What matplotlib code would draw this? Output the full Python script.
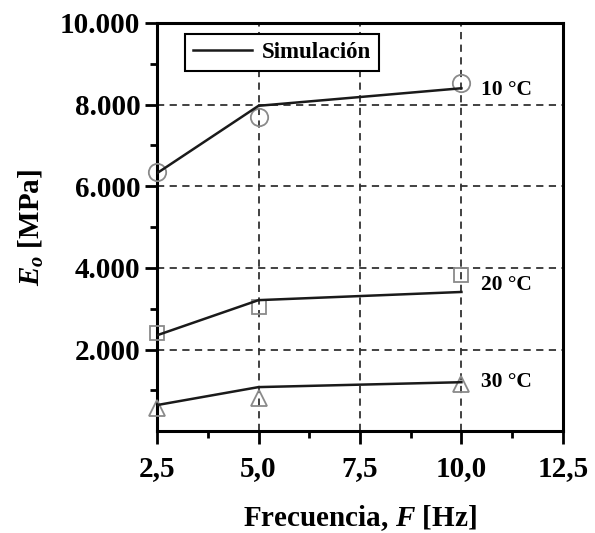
import matplotlib
matplotlib.use("Agg")
import matplotlib.pyplot as plt
from matplotlib.ticker import FixedLocator, FuncFormatter

plt.rcParams['font.family'] = ['Liberation Serif', 'DejaVu Serif']
plt.rcParams['font.weight'] = 'bold'
plt.rcParams['mathtext.fontset'] = 'custom'
plt.rcParams['mathtext.rm'] = 'Liberation Serif:bold'
plt.rcParams['mathtext.it'] = 'Liberation Serif:italic:bold'
plt.rcParams['mathtext.bf'] = 'Liberation Serif:bold'

# Data
freq = [2.5, 5.0, 10.0]
temps = ['10 °C', '20 °C', '30 °C']
sim_10 = [6320, 7970, 8400]
sim_20 = [2350, 3210, 3410]
sim_30 = [640, 1080, 1200]
exp_10 = [6350, 7700, 8530]
exp_20 = [2400, 3040, 3820]
exp_30 = [560, 810, 1150]
xticks = [2.5, 5.0, 7.5, 10.0, 12.5]
yticks = [2000, 4000, 6000, 8000, 10000]

fig = plt.figure(figsize=(5.95, 5.33), dpi=100)
ax = fig.add_axes([0.264, 0.191, 0.682, 0.766])

sims = [sim_10, sim_20, sim_30]
exps = [exp_10, exp_20, exp_30]
markers = ['o', 's', '^']
msizes = [12.5, 10.5, 12]
for i, (s, e) in enumerate(zip(sims, exps)):
    ax.plot(freq, e, linestyle='none', marker=markers[i], markersize=msizes[i],
            markerfacecolor='none', markeredgecolor='#8a8a8a', markeredgewidth=1.3,
            zorder=3, clip_on=False)
    ax.plot(freq, s, color='#1a1a1a', linewidth=1.8, zorder=4,
            label='Simulación' if i == 0 else None)

# temperature annotations
label_y = [sim_10[-1], exp_20[-1], sim_30[-1]]
label_dy = [-50, -250, 0]
for t, yv, dy in zip(temps, label_y, label_dy):
    ax.annotate(t, xy=(freq[-1], yv + dy), xytext=(14, 0), textcoords='offset points',
                va='center', ha='left', fontsize=15.5, fontweight='bold')

ax.set_xlim(2.5, 12.5)
ax.set_ylim(0, 10000)
ax.xaxis.set_major_locator(FixedLocator(xticks))
ax.xaxis.set_minor_locator(FixedLocator([3.75, 6.25, 8.75, 11.25]))
ax.yaxis.set_major_locator(FixedLocator(yticks))
ax.yaxis.set_minor_locator(FixedLocator([1000, 3000, 5000, 7000, 9000]))
ax.xaxis.set_major_formatter(FuncFormatter(lambda v, p: f'{v:.1f}'.replace('.', ',')))
ax.yaxis.set_major_formatter(FuncFormatter(lambda v, p: f'{int(v):,}'.replace(',', '.')))

ax.tick_params(which='major', direction='out', length=9, width=2, labelsize=21, pad=3)
ax.tick_params(which='minor', direction='out', length=5, width=2)
for lab in ax.get_xticklabels() + ax.get_yticklabels():
    lab.set_fontweight('bold')
ax.tick_params(axis='x', which='major', pad=8)

for sp in ax.spines.values():
    sp.set_linewidth(2.2)

ax.grid(True, which='major', linestyle=(0, (4, 3)), color='#333333', linewidth=1.3)
ax.set_axisbelow(True)

ax.set_xlabel('Frecuencia, $F$ [Hz]', fontsize=21, fontweight='bold', labelpad=15)
ax.set_ylabel('$E_o$ [MPa]', fontsize=21, fontweight='bold', labelpad=10)

leg = ax.legend(loc='upper left', bbox_to_anchor=(0.068, 0.972), fontsize=16.5,
                frameon=True, fancybox=False, edgecolor='black', handlelength=2.6,
                borderpad=0.35, handletextpad=0.4, borderaxespad=0)
leg.get_frame().set_linewidth(1.5)
leg.get_frame().set_alpha(1)
for t in leg.get_texts():
    t.set_fontweight('bold')

fig.savefig('out.png', dpi=100, facecolor='white')
